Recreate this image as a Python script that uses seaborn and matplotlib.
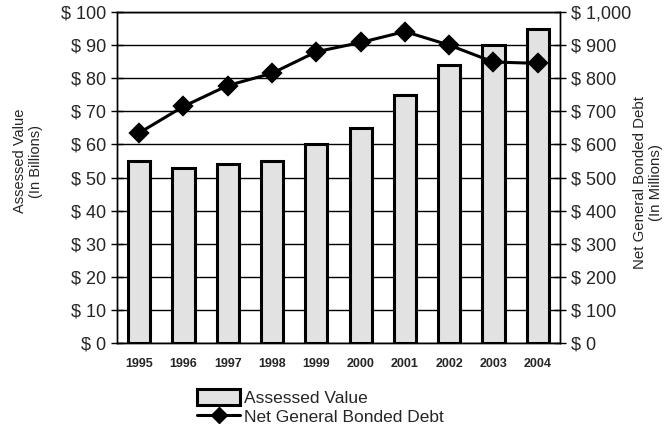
import seaborn as sns
import matplotlib.pyplot as plt
import pandas as pd
from matplotlib.patches import Patch
from matplotlib.lines import Line2D

# data
years = ["1995", "1996", "1997", "1998", "1999", "2000", "2001", "2002", "2003", "2004"]
assessed_value = [55, 53, 54, 55, 60, 65, 75, 84, 90, 95]          # billions
bonded_debt = [635, 715, 778, 815, 880, 908, 941, 900, 849, 845]   # millions
left_ticks = [0, 10, 20, 30, 40, 50, 60, 70, 80, 90, 100]
right_ticks = [0, 100, 200, 300, 400, 500, 600, 700, 800, 900, 1000]

df = pd.DataFrame({"year": years, "value": assessed_value, "debt": bonded_debt})

sns.set_theme(style="white")
plt.rcParams["font.family"] = ["Liberation Sans", "DejaVu Sans"]

fig = plt.figure(figsize=(6.65, 4.29), dpi=100)
ax = fig.add_axes([0.176, 0.2, 0.666, 0.772])

bar_color = "#e2e2e2"
sns.barplot(data=df, x="year", y="value", color=bar_color, edgecolor="black",
            linewidth=2.2, width=0.5, saturation=1, ax=ax, zorder=3)

ax.set_ylim(0, 100)
ax.set_yticks(left_ticks)
ax.set_yticklabels([f"$ {t}" for t in left_ticks], fontsize=13)
ax.yaxis.grid(True, color="black", linewidth=1)
ax.set_axisbelow(True)
ax.set_xlim(-0.5, 9.5)
ax.set_xlabel("")
ax.set_ylabel("Assessed Value\n(In Billions)", fontsize=10.5)
ax.yaxis.set_label_coords(-0.167, 0.55)
ax.set_xticks(range(len(years)))
ax.set_xticklabels(years, fontsize=9, fontweight="bold")
ax.tick_params(axis="x", length=0, pad=11)
ax.set_xticks([i + 0.5 for i in range(-1, len(years))], minor=True)
ax.tick_params(axis="x", which="minor", direction="inout", length=8, width=1, color="black")
ax.tick_params(axis="y", direction="inout", length=8, width=1, color="black", left=True, pad=4)
for s in ax.spines.values():
    s.set_color("black")
    s.set_linewidth(1)

ax2 = ax.twinx()
sns.pointplot(data=df, x="year", y="debt", color="black", markers="D",
              linestyles="-", markersize=9, linewidth=2.2, ax=ax2)
ax2.set_ylim(0, 1000)
ax2.set_yticks(right_ticks)
ax2.set_yticklabels([f"$ {t:,}" for t in right_ticks], fontsize=13)
ax2.set_ylabel("Net General Bonded Debt\n(In Millions)", fontsize=10.8, rotation=90)
ax2.yaxis.set_label_coords(1.165, 0.485)
ax2.tick_params(axis="y", direction="inout", length=8, width=1, color="black", right=True, pad=4)
ax2.set_xlim(-0.5, 9.5)
ax2.set_xlabel("")
for s in ax2.spines.values():
    s.set_color("black")
    s.set_linewidth(1)

handles = [Patch(facecolor=bar_color, edgecolor="black", linewidth=2.2),
           Line2D([0], [0], color="black", marker="D", markersize=8, linewidth=2.2)]
fig.legend(handles, ["Assessed Value", "Net General Bonded Debt"], loc="upper left",
           bbox_to_anchor=(0.296, 0.093), frameon=False, fontsize=12.5,
           handlelength=2.5, handleheight=1.0, handletextpad=0.2, labelspacing=0.15,
           borderpad=0, borderaxespad=0)

fig.savefig("out.png", dpi=100)
